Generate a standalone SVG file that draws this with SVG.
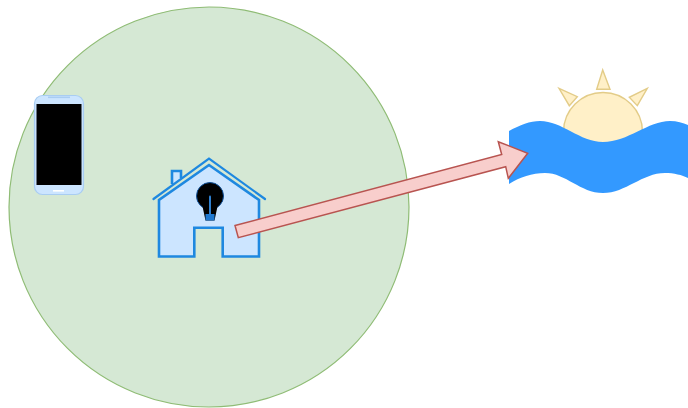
<svg xmlns="http://www.w3.org/2000/svg" width="688" height="408" viewBox="0 0 688 408">
<style>
.house{fill:#cce5ff;stroke:#1e88e0;stroke-width:2.6;stroke-linejoin:miter}
.roof{fill:none;stroke:#1e88e0;stroke-width:2.2;stroke-linecap:round;stroke-linejoin:miter}
.sun{fill:#fff0c8;stroke:#e3cc88;stroke-width:1.400}
</style>
<rect width="688" height="408" fill="#ffffff"/>
<g id="zone"><circle cx="209" cy="207" r="200" fill="#d5e8d4" stroke="#8fbc75" stroke-width="1.200"/></g>
<g id="phone">
<rect x="34.500" y="95.500" width="49" height="99" rx="8" ry="8" fill="#cce5ff" stroke="#a9cdf2" stroke-width="1.200"/>
<rect x="36.500" y="104" width="45" height="81" fill="#000000"/>
<rect x="53" y="190" width="11" height="1.600" fill="#ffffff"/>
<rect x="48" y="96.500" width="22" height="1.600" fill="#a9cdf2"/>
</g>
<g id="house">
<path class="house" d="M172 184V171H181V178"/>
<path class="house" d="M159 256.500V200L209 165L259 200V256.500H222.700V227.700H194.300V256.500Z"/>
<path class="roof" d="M153.500 199L209 158.500L265 199"/>
<circle cx="210" cy="196" r="13.500" fill="#000000" stroke="#0d4f99" stroke-width="1"/>
<path d="M202 204L205.500 220.500H214.500L218 204Z" fill="#000000"/>
<path d="M205.500 214H214.500V220.500H205.500Z" fill="#1e78d0"/>
<path d="M210 196.500V214" fill="none" stroke="#2f80d0" stroke-width="2" stroke-linecap="round"/>
</g>
<g id="sunset">
<circle class="sun" cx="603" cy="132" r="39.500"/>
<polygon class="sun" points="602.700,70 596.700,89.300 610,89.300"/>
<polygon class="sun" points="559,88.300 577.300,96.700 569.300,105.700"/>
<polygon class="sun" points="647.300,88.300 629.300,97.300 637.300,105.700"/>
<path d="M509 131C520 125 530 121 540 121C562 121 580 142 603 142C628 142 648 121 670 121C677 121 683 123 688 125V178C682 175 674 173 665 173C642 173 626 193 603 193C580 193 566 173 545 173C532 173 520 177 509 184Z" fill="#3399ff"/>
</g>
<g id="connectors">
<path d="M235 225.500L501.700 154.500L498.300 141.700L527.700 153.300L508.300 178.300L505.700 166.700L238.300 237.700Z" fill="#f8cecc" stroke="#b85450" stroke-width="1.500" stroke-linejoin="miter"/>
</g>
</svg>
